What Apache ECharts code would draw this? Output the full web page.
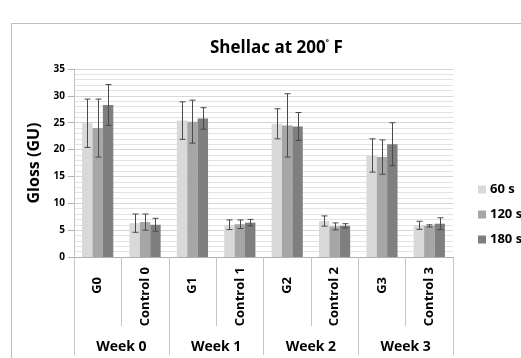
<!DOCTYPE html>
<html>
<head>
<meta charset="utf-8">
<script src="https://cdn.jsdelivr.net/npm/echarts@6/dist/echarts.min.js"></script>
<style>
  html, body { margin: 0; padding: 0; background: #ffffff; }
  #chart { width: 521px; height: 358px; }
</style>
</head>
<body>
<div id="chart"></div>
<script>
// Gloss readings (GU) for shellac cured at 200 °F, by sample and week
const categories = ['G0', 'Control 0', 'G1', 'Control 1', 'G2', 'Control 2', 'G3', 'Control 3'];
const weeks = ['Week 0', 'Week 1', 'Week 2', 'Week 3'];
const seriesNames = ['60 s', '120 s', '180 s'];

const gloss60 = [24.9, 6.3, 25.4, 6.0, 24.8, 6.7, 18.9, 5.9];
const err60 = [4.5, 1.7, 3.5, 0.9, 2.8, 0.95, 3.1, 0.75];
const gloss120 = [24.0, 6.5, 25.2, 6.1, 24.5, 5.7, 18.6, 5.8];
const err120 = [5.4, 1.5, 4.0, 0.8, 5.9, 0.65, 3.2, 0.2];
const gloss180 = [28.3, 6.0, 25.8, 6.4, 24.3, 5.8, 21.0, 6.2];
const err180 = [3.8, 1.2, 2.0, 0.6, 2.6, 0.4, 4.0, 1.1];

const yTicks = [0, 5, 10, 15, 20, 25, 30, 35];

const values = [gloss60, gloss120, gloss180];
const errors = [err60, err120, err180];
const colors = ['#d9d9d9', '#a6a6a6', '#7f7f7f'];
const BAR_W = 10.4;
const FONT = '"Open Sans", "DejaVu Sans", sans-serif';

const chart = echarts.init(document.getElementById('chart'), null, { renderer: 'canvas' });

// Symmetric error bar with caps, offset to sit on the k-th bar of each group
function errorSeries(k) {
  return {
    type: 'custom',
    xAxisIndex: 0,
    yAxisIndex: 0,
    z: 5,
    data: values[k].map((v, i) => [i, v, errors[k][i]]),
    renderItem: function (params, api) {
      const i = api.value(0), v = api.value(1), e = api.value(2);
      const hi = api.coord([i, v + e]);
      const lo = api.coord([i, v - e]);
      const x = Math.round(hi[0] + (k - 1) * BAR_W) + 0.5;
      const cap = 3;
      const style = { stroke: '#4a4a4a', lineWidth: 1 };
      return {
        type: 'group',
        children: [
          { type: 'line', shape: { x1: x, y1: hi[1], x2: x, y2: lo[1] }, style: style },
          { type: 'line', shape: { x1: x - cap, y1: hi[1], x2: x + cap, y2: hi[1] }, style: style },
          { type: 'line', shape: { x1: x - cap, y1: lo[1], x2: x + cap, y2: lo[1] }, style: style }
        ]
      };
    }
  };
}

const barSeries = seriesNames.map((name, k) => ({
  name: name,
  type: 'bar',
  xAxisIndex: 0,
  yAxisIndex: 0,
  barWidth: BAR_W,
  barGap: '0%',
  itemStyle: { color: colors[k] },
  data: values[k]
}));

const option = {
  animation: false,
  backgroundColor: '#ffffff',
  textStyle: { fontFamily: FONT },
  graphic: [{
    type: 'rect',
    silent: true,
    z: -1,
    shape: { x: 11.5, y: 23.5, width: 600, height: 400 },
    style: { fill: 'none', stroke: '#bdbdbd', lineWidth: 1 }
  }],
  title: {
    text: 'Shellac at 200{sup|˚} F',
    left: 205,
    top: 34,
    textStyle: {
      fontFamily: FONT,
      fontWeight: 'bold',
      fontSize: 17,
      color: '#000000',
      rich: {
        sup: { fontFamily: FONT, fontWeight: 'bold', fontSize: 11, verticalAlign: 'top', padding: [0, 0, 7, 0], color: '#000000' }
      }
    }
  },
  legend: {
    orient: 'vertical',
    left: 473,
    top: 178,
    itemWidth: 8,
    itemHeight: 8,
    itemGap: 12,
    icon: 'rect',
    data: seriesNames,
    textStyle: { fontFamily: FONT, fontWeight: 'bold', fontSize: 13, color: '#000000', padding: [0, 0, 0, -1] }
  },
  grid: { left: 74, right: 68, top: 69, bottom: 101, containLabel: false },
  xAxis: [{
    type: 'category',
    data: categories,
    position: 'bottom',
    boundaryGap: true,
    axisLine: { show: true, lineStyle: { color: '#b0b0b0', width: 1 } },
    axisTick: { show: true, interval: 0, length: 69, lineStyle: { color: '#c4c4c4' } },
    axisLabel: {
      interval: 0,
      rotate: 90,
      margin: 10,
      fontFamily: FONT,
      fontWeight: 'bold',
      fontSize: 13,
      color: '#000000',
      formatter: v => (v.indexOf('G') === 0 ? '{g|' + v + '}' : '{c|' + v + '}'),
      rich: {
        g: { fontFamily: FONT, fontWeight: 'bold', fontSize: 13, color: '#000000', padding: [0, 10, 0, 0] },
        c: { fontFamily: FONT, fontWeight: 'bold', fontSize: 13, color: '#000000' }
      }
    },
    splitLine: { show: false }
  }, {
    type: 'category',
    data: weeks,
    position: 'bottom',
    offset: 69,
    boundaryGap: true,
    axisLine: { show: false },
    axisTick: { show: true, interval: 0, length: 29, lineStyle: { color: '#c4c4c4' } },
    axisLabel: {
      interval: 0,
      margin: 14,
      fontFamily: FONT,
      fontWeight: 'bold',
      fontSize: 14,
      color: '#000000'
    },
    splitLine: { show: false }
  }],
  yAxis: {
    type: 'value',
    min: yTicks[0],
    max: yTicks[yTicks.length - 1],
    interval: yTicks[1] - yTicks[0],
    name: 'Gloss (GU)',
    nameLocation: 'middle',
    nameGap: 28,
    nameTextStyle: { fontFamily: FONT, fontWeight: 'bold', fontSize: 16, color: '#000000' },
    axisLine: { show: true, lineStyle: { color: '#c4c4c4' } },
    axisTick: { show: true, length: 6, lineStyle: { color: '#b0b0b0' } },
    axisLabel: { margin: 9, fontFamily: FONT, fontWeight: 'bold', fontSize: 10, color: '#000000' },
    splitLine: { show: true, lineStyle: { color: '#d6d6d6', width: 1 } },
    minorTick: { show: false, splitNumber: 5 },
    minorSplitLine: { show: true, lineStyle: { color: '#e3e3e3', width: 1 } }
  },
  series: barSeries.concat([errorSeries(0), errorSeries(1), errorSeries(2)])
};

chart.setOption(option);
</script>
</body>
</html>
